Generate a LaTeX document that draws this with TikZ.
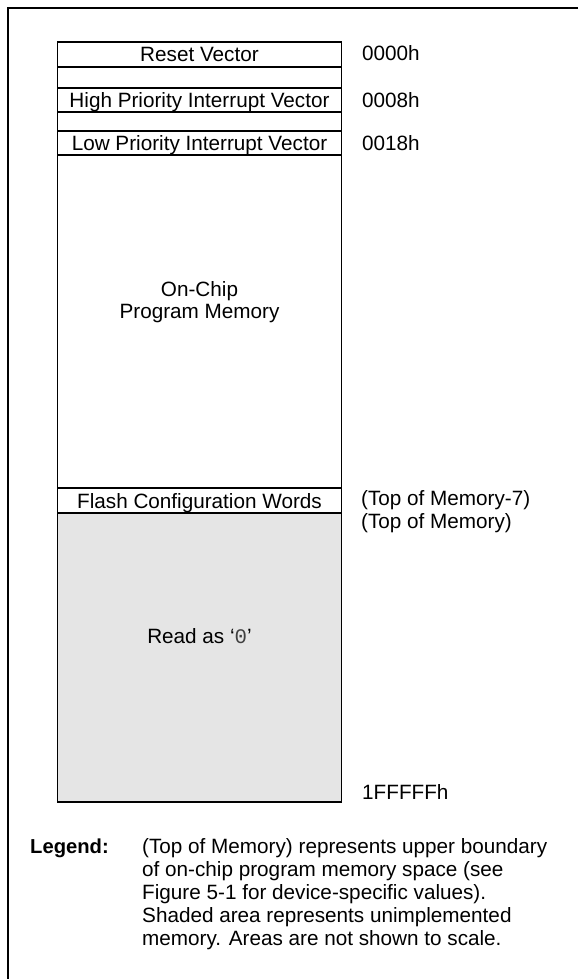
\documentclass[tikz,border=0pt]{standalone}
\usepackage{fontspec}
\setmainfont{Liberation Sans}
\newfontfamily\monof{Liberation Mono}
\definecolor{shade}{RGB}{229,229,229}
\begin{document}
\begin{tikzpicture}[x=1pt,y=-1pt,
  region/.style={draw=black, line width=1.8pt, rectangle, inner sep=0pt, outer sep=0pt,
    minimum width=284pt, text height=14.8pt, text depth=0pt, font=\fontsize{20.7}{24}\selectfont},
  addr/.style={anchor=west, inner sep=0pt, font=\fontsize{20.7}{24}\selectfont, text height=14.8pt, text depth=0pt},
  lbl/.style={inner sep=0pt, font=\fontsize{20.7}{22}\selectfont, align=center},
  legtext/.style={anchor=base west, inner sep=0pt, font=\fontsize{20.7}{24}\selectfont}]
\useasboundingbox (0,0) rectangle (578,979);
\draw[line width=2pt] (578,8.5) coordinate (ftr) -- (7.5,8.5) coordinate (ftl) -- (7.5,979) coordinate (fbl);
% memory map
\node[region, minimum height=288.4pt, fill=shade] (shaded) at (199.5,657.5) {};
\node[region, minimum height=333pt] (onchip) at (199.5,321.8) {};
\node[region, minimum height=25pt] (flash) at (199.5,500.8) {Flash Configuration Words};
\node[region, minimum height=25pt] (reset) at (199.5,54.2) {Reset Vector};
\node[region, minimum height=21pt] (gapa) at (199.5,77.2) {};
\node[region, minimum height=24pt] (high) at (199.5,99.7) {High Priority Interrupt Vector};
\node[region, minimum height=19pt] (gapb) at (199.5,121.2) {};
\node[region, minimum height=24.6pt] (low) at (199.5,143) {Low Priority Interrupt Vector};
\node[lbl] (onchiptext) at (199.5,302) {On-Chip\\Program Memory};
\node[lbl] (readtext) at (199.5,636) {Read as `{\monof\color{black!75}0}'};
% addresses
\node[addr] (a0) at (362,53.5) {0000h};
\node[addr] (a8) at (362,99.7) {0008h};
\node[addr] (a18) at (362,143) {0018h};
\node[addr] (atm7) at (361,498) {(Top of Memory-7)};
\node[addr] (atm) at (361,521) {(Top of Memory)};
\node[addr] (aend) at (362,792) {1FFFFFh};
% legend
\node[legtext, font=\fontsize{20.2}{24}\selectfont\bfseries] (leg) at (30,853) {Legend:};
\node[legtext] (l1) at (142,853) {(Top of Memory) represents upper boundary};
\node[legtext] (l2) at (142,876) {of on-chip program memory space (see};
\node[legtext] (l3) at (142,899) {Figure 5-1 for device-specific values).};
\node[legtext] (l4) at (142,922) {Shaded area represents unimplemented};
\node[legtext] (l5) at (142,945) {memory. Areas are not shown to scale.};
\end{tikzpicture}
\end{document}
